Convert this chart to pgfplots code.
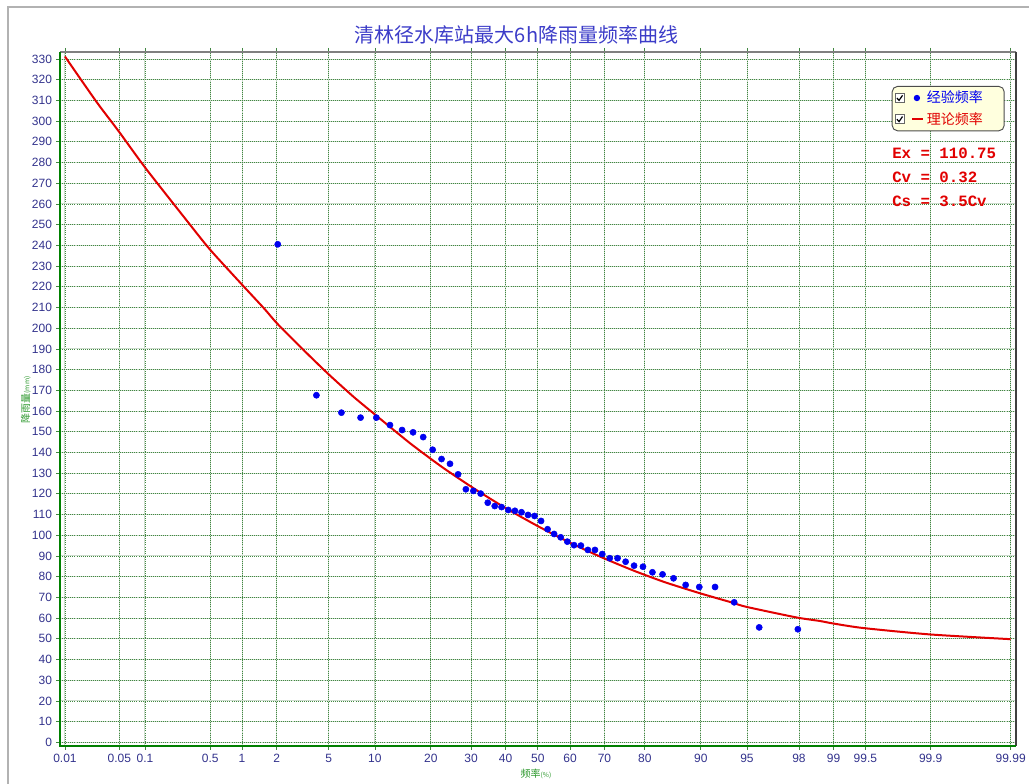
\documentclass[border=0pt]{standalone}
\usepackage{pgfplots}
\pgfplotsset{compat=1.18}
\usepackage{fontspec}
\setmainfont{Liberation Sans}
\newfontfamily\cjk{Noto Sans CJK SC}
\newfontfamily\mono{Liberation Mono}
\definecolor{ticktext}{RGB}{50,50,140}
\definecolor{gridgreen}{RGB}{65,135,65}
\definecolor{gridlight}{RGB}{205,220,205}
\definecolor{axgreen}{RGB}{0,128,0}
\definecolor{lblgreen}{RGB}{40,150,40}
\definecolor{titleblue}{RGB}{60,60,200}
\definecolor{curvered}{RGB}{225,0,0}
\definecolor{ptblue}{RGB}{0,0,240}
\definecolor{legfill}{RGB}{255,255,222}

\pgfplotstableread{
z v
-2.0453 240.5
-1.7412 167.6
-1.5445 159.2
-1.3941 156.8
-1.2700 156.8
-1.1628 153.2
-1.0675 150.8
-0.9811 149.7
-0.9014 147.4
-0.8270 141.3
-0.7570 136.8
-0.6906 134.5
-0.6270 129.4
-0.5658 122.2
-0.5068 121.4
-0.4494 120.1
-0.3936 115.7
-0.3389 114.1
-0.2851 113.6
-0.2322 112.2
-0.1800 111.8
-0.1282 111.1
-0.0768 109.8
-0.0256 109.3
0.0256 106.9
0.0768 102.9
0.1282 100.6
0.1800 99.0
0.2322 96.9
0.2851 95.2
0.3389 95.0
0.3936 92.9
0.4494 92.9
0.5068 90.9
0.5658 88.9
0.6270 88.9
0.6906 87.2
0.7570 85.3
0.8270 84.8
0.9014 82.1
0.9811 81.1
1.0675 79.2
1.1628 76.0
1.2700 75.0
1.3941 75.0
1.5445 67.6
1.7412 55.5
2.0453 54.6
}\empirical

\pgfplotstableread{
z v
-3.719 331.2
-3.472 309.4
-3.294 294.9
-3.084 277.2
-2.764 252.2
-2.580 238.1
-2.323 220.8
-2.148 209.2
-2.051 202.3
-1.850 189.9
-1.650 178.0
-1.450 166.9
-1.279 158.2
-1.000 144.2
-0.750 132.8
-0.500 122.5
-0.250 113.0
0.000 104.4
0.250 96.5
0.500 89.4
0.750 83.0
1.000 77.3
1.274 72.0
1.527 67.5
1.641 65.4
2.034 60.3
2.217 58.6
2.321 57.4
2.557 55.2
3.082 52.1
3.719 49.8
}\theory

\begin{document}
\begin{tikzpicture}
\useasboundingbox (0,0) rectangle (771.75pt,588pt);
\draw[black!30, line width=1.1pt] (6pt,-5pt) -- (6pt,582.75pt) -- (780pt,582.75pt);

\begin{axis}[
  name=ax,
  at={(45pt,28.725pt)}, anchor=south west,
  scale only axis,
  width=717pt, height=520.3pt,
  xmin=-3.758, xmax=3.761,
  ymin=-1.64, ymax=333.4,
  xtick={-3.719,-3.291,-3.090,-2.576,-2.326,-2.054,-1.645,-1.2816,-0.8416,-0.5244,-0.2533,0,0.2533,0.5244,0.8416,1.2816,1.645,2.054,2.326,2.576,3.090,3.719},
  xticklabels={0.01,0.05,0.1,0.5,1,2,5,10,20,30,40,50,60,70,80,90,95,98,99,99.5,99.9,99.99},
  ytick={0,10,...,330},
  /pgf/number format/assume math mode=true,
  tick align=outside,
  xtick pos=both, ytick pos=left,
  major tick length=3pt,
  tick style={draw=gridgreen, line width=0.5pt},
  ticklabel style={font=\fontsize{9}{10}\selectfont, text=ticktext},
  yticklabel style={xshift=0.5pt},
  grid=major,
  major grid style={draw=gridlight, line width=0.7pt, postaction={draw=gridgreen, line width=0.5pt, dash pattern=on 0.55pt off 1.0pt}},
  axis line style={draw=none},
  clip=false,
  legend cell align=left,
  legend style={at={(0.870,0.951)}, anchor=north west, fill=legfill, draw=black!70, line width=0.7pt, rounded corners=4pt, inner xsep=2pt, inner ysep=1.5pt, row sep=1.5pt, font=\cjk\fontsize{10.5}{12}\selectfont},
]
\addplot[only marks, mark=*, mark size=2.3pt, color=ptblue,
  legend image code/.code={
    \draw[sharp corners, black!60, fill=white, line width=0.5pt] (0pt,-3.4pt) rectangle (6.8pt,3.4pt);
    \draw[sharp corners, black, line width=0.9pt] (1.3pt,0pt) -- (2.9pt,-1.8pt) -- (5.5pt,2pt);
    \fill[ptblue] (16.3pt,0pt) circle (2pt);
    \path[draw=none, fill=none] (0pt,0pt) (21pt,0pt);
  }] table[x=z, y=v] {\empirical};
\addlegendentry{\textcolor{ptblue}{经验频率}\hspace*{12pt}}
\addplot[curvered, line width=1.5pt, smooth, tension=0.4,
  legend image code/.code={
    \draw[sharp corners, black!60, fill=white, line width=0.5pt] (0pt,-3.4pt) rectangle (6.8pt,3.4pt);
    \draw[sharp corners, black, line width=0.9pt] (1.3pt,0pt) -- (2.9pt,-1.8pt) -- (5.5pt,2pt);
    \draw[sharp corners, curvered, line width=1.5pt] (12.75pt,0pt) -- (21pt,0pt);
  }] table[x=z, y=v] {\theory};
\addlegendentry{\textcolor{curvered}{理论频率}\hspace*{12pt}}
\end{axis}

\draw[black!50, line width=1.5pt] (ax.north west) -- (ax.north east);
\draw[black!75, line width=1.1pt] (ax.north east) -- (ax.south east);
\draw[axgreen, line width=1.6pt] (ax.north west) -- (ax.south west) -- (ax.south east);

\node[font=\cjk\fontsize{15}{18}\selectfont, text=titleblue] at (387.4pt,561.75pt) {清林径水库站最大6h降雨量频率曲线};

\node[anchor=west, font=\mono\bfseries\fontsize{11.8}{13}\selectfont, text=curvered, inner sep=0pt] at (669pt,473.25pt) {Ex = 110.75};
\node[anchor=west, font=\mono\bfseries\fontsize{11.8}{13}\selectfont, text=curvered, inner sep=0pt] at (669pt,455.25pt) {Cv = 0.32};
\node[anchor=west, font=\mono\bfseries\fontsize{11.8}{13}\selectfont, text=curvered, inner sep=0pt] at (669pt,437.25pt) {Cs = 3.5Cv};

\node[rotate=90, text=lblgreen, inner sep=0pt] at (19.3pt,288pt) {\cjk\fontsize{7.5}{8}\selectfont 降雨量\fontsize{5}{6}\selectfont(mm)};
\node[text=lblgreen, inner sep=0pt] at (402pt,7.5pt) {\cjk\fontsize{7.5}{8}\selectfont 频率\fontsize{5}{6}\selectfont(\%)};
\end{tikzpicture}
\end{document}
